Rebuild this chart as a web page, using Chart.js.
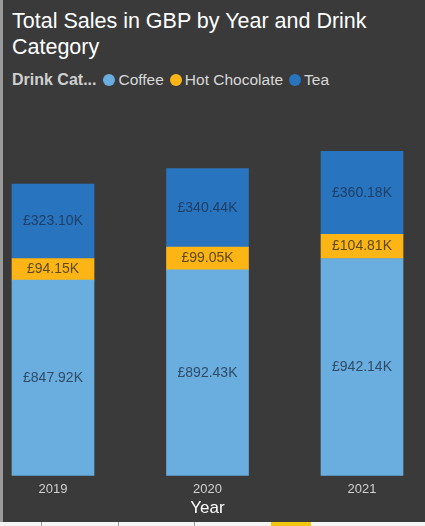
<!DOCTYPE html>
<html>
<head>
<meta charset="utf-8">
<script src="https://cdn.jsdelivr.net/npm/chart.js@4/dist/chart.umd.min.js"></script>
<style>
  html, body { margin:0; padding:0; }
  body { width:425px; height:526px; background:#3a3a3a; position:relative; overflow:hidden; font-family:"Liberation Sans", Arial, sans-serif; }
  #leftEdge { position:absolute; left:0; top:0; width:3px; height:522px; background:#9a9a9a; }
  #title { position:absolute; left:12px; top:8px; width:410px; color:#ffffff; font-size:21.5px; line-height:26px; }
  #legend { position:absolute; left:12px; top:71px; font-size:15.5px; color:#d8d8d8; white-space:nowrap; }
  #legend b { color:#d0d0d0; margin-right:7px; font-size:16px; }
  #legend .it { display:inline-block; margin-right:6px; }
  #legend .dot { display:inline-block; width:12px; height:12px; border-radius:50%; vertical-align:-1px; margin-right:3px; }
  #chartWrap { position:absolute; left:0; top:0; width:425px; height:522px; }
  #bottomStrip { position:absolute; left:0; top:522px; width:425px; height:4px; background:#f4f4f4; }
  #bottomStrip span { position:absolute; top:0; height:4px; }
</style>
</head>
<body>
<div id="leftEdge"></div>
<div id="title">Total Sales in GBP by Year and Drink Category</div>
<div id="legend"></div>
<div id="chartWrap"><canvas id="c" width="425" height="522"></canvas></div>
<div id="bottomStrip">
  <span style="left:41px;width:1px;background:#9a9a9a"></span>
  <span style="left:118px;width:1px;background:#9a9a9a"></span>
  <span style="left:194px;width:1px;background:#9a9a9a"></span>
  <span style="left:271px;width:40px;background:#f2c80f"></span>
</div>
<script>
const years = ["2019", "2020", "2021"];
const coffee = [847.92, 892.43, 942.14];
const hotChocolate = [94.15, 99.05, 104.81];
const tea = [323.10, 340.44, 360.18];
const seriesNames = ["Coffee", "Hot Chocolate", "Tea"];
const seriesColors = ["#6aaee0", "#fdb515", "#2874be"];
const labelColors = ["#2f4b66", "#5b4a1a", "#1f3f66"];

// HTML legend
const lg = document.getElementById('legend');
lg.innerHTML = '<b>Drink Cat...</b>' + seriesNames.map((n,i)=>
  '<span class="it"><span class="dot" style="background:'+seriesColors[i]+'"></span>'+n+'</span>').join('');

const valueLabels = {
  id: 'valueLabels',
  afterDatasetsDraw(chart) {
    const ctx = chart.ctx;
    ctx.save();
    ctx.font = '14px "Liberation Sans", Arial, sans-serif';
    ctx.textAlign = 'center';
    ctx.textBaseline = 'middle';
    chart.data.datasets.forEach((ds, di) => {
      const meta = chart.getDatasetMeta(di);
      meta.data.forEach((el, i) => {
        const v = ds.data[i];
        ctx.fillStyle = labelColors[di];
        ctx.fillText('£' + v.toFixed(2) + 'K', el.x, (el.y + el.base) / 2);
      });
    });
    ctx.restore();
  }
};

const allSeries = [coffee, hotChocolate, tea];
new Chart(document.getElementById('c'), {
  type: 'bar',
  data: {
    labels: years,
    datasets: allSeries.map((d, i) => ({
      label: seriesNames[i],
      data: d,
      backgroundColor: seriesColors[i],
      borderWidth: 0,
      barThickness: 82,
      clip: false
    }))
  },
  options: {
    responsive: false,
    animation: false,
    layout: { padding: { left: 53, right: 63, top: 130, bottom: 0 } },
    plugins: { legend: { display: false }, tooltip: { enabled: false } },
    scales: {
      x: {
        stacked: true,
        offset: false,
        grid: { display: false, drawTicks: false },
        border: { display: false },
        ticks: { color: '#d0d0d0', font: { size: 13, family: '"Liberation Sans", Arial, sans-serif' }, padding: 6 },
        title: { display: true, text: 'Year', color: '#ffffff', font: { size: 17, lineHeight: 1, family: '"Liberation Sans", Arial, sans-serif' }, padding: { top: -3, bottom: 5 } }
      },
      y: {
        stacked: true,
        display: false,
        min: 0,
        max: 1500
      }
    }
  },
  plugins: [valueLabels]
});
</script>
</body>
</html>
